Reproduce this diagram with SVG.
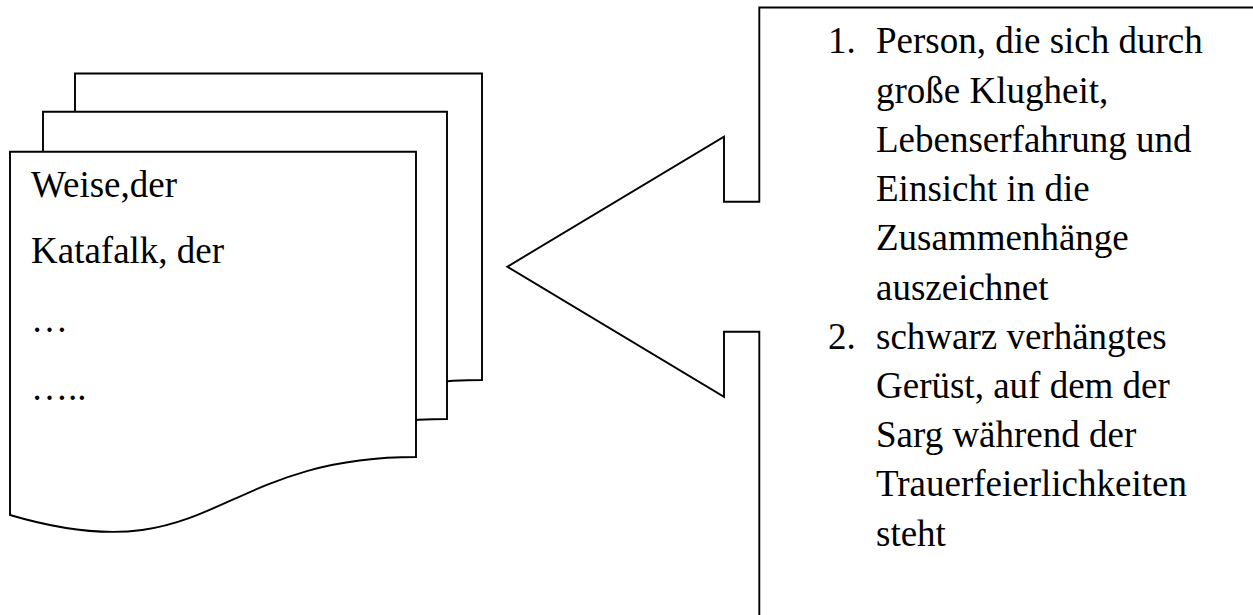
<svg xmlns="http://www.w3.org/2000/svg" width="1253" height="615" viewBox="0 0 1253 615">
<style>
.shape{fill:#fff;stroke:#000;stroke-width:1.9;stroke-linejoin:miter}
.t{font-family:"Liberation Serif","Times New Roman",serif;font-size:37px;fill:#000}
</style>
<rect width="1253" height="615" fill="#fff"/>
<g id="doc-back">
<path class="shape" d="M75,73.5 H482 V380 C278.5,380 278.5,498 75,438 Z"/>
</g>
<g id="doc-middle">
<path class="shape" d="M43,111.7 H447 V419 C245,419 245,537 43,477 Z"/>
</g>
<g id="doc-front">
<path class="shape" d="M10,151.7 H416 V457 C213,457 213,575 10,515 Z"/>
<text class="t" x="31" y="196.7">Weise,der</text>
<text class="t" x="31" y="263.3">Katafalk, der</text>
<text class="t" x="31" y="331.7">…</text>
<text class="t" x="31" y="400">…..</text>
</g>
<g id="callout">
<path class="shape" style="fill:none" d="M1260,7.5 H759.3 V201.7 H724 V136.7 L507.3,266.7 L724,396.7 V331.7 H759.3 V625"/>
<text class="t" x="828" y="53.3">1.</text>
<text class="t" x="876" y="53.3">Person, die sich durch</text>
<text class="t" x="876" y="102.5">große Klugheit,</text>
<text class="t" x="876" y="151.8">Lebenserfahrung und</text>
<text class="t" x="876" y="201">Einsicht in die</text>
<text class="t" x="876" y="250.3">Zusammenhänge</text>
<text class="t" x="876" y="299.5">auszeichnet</text>
<text class="t" x="828" y="348.5">2.</text>
<text class="t" x="876" y="348.5">schwarz verhängtes</text>
<text class="t" x="876" y="397.8">Gerüst, auf dem der</text>
<text class="t" x="876" y="447">Sarg während der</text>
<text class="t" x="876" y="496.3">Trauerfeierlichkeiten</text>
<text class="t" x="876" y="545.5">steht</text>
</g>
</svg>
